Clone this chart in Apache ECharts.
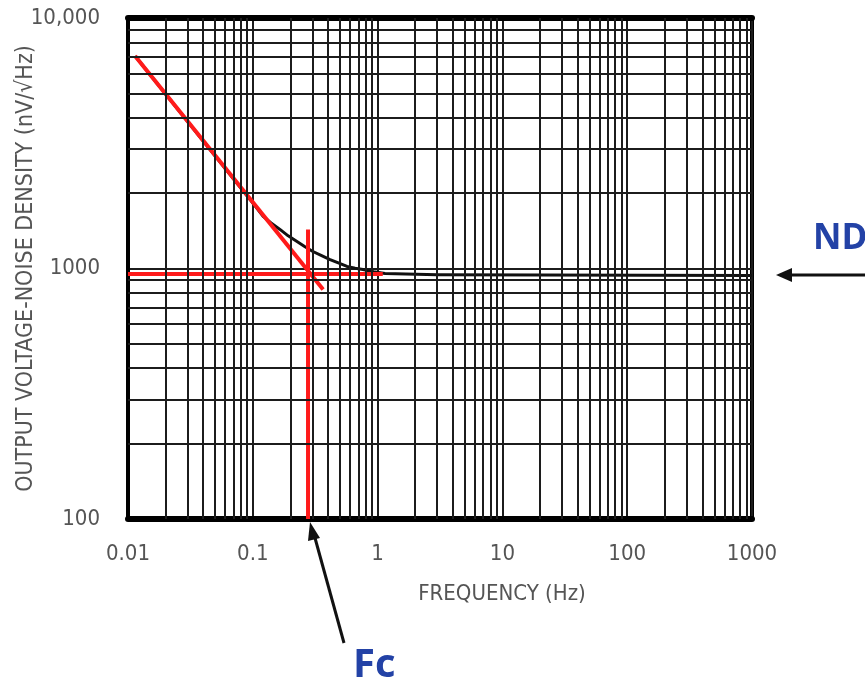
<!DOCTYPE html>
<html>
<head>
<meta charset="utf-8">
<script src="https://cdn.jsdelivr.net/npm/echarts@6/dist/echarts.min.js"></script>
<style>
  html, body { margin: 0; padding: 0; background: #fff; }
  #main { width: 865px; height: 689px; }
</style>
</head>
<body>
<div id="main"></div>
<script>
  // axis decades
  const xDecades = [0.01, 0.1, 1, 10, 100];
  const yDecades = [100, 1000];
  const minorSteps = [2, 3, 4, 5, 6, 7, 8, 9];

  // measured noise curve (black)
  const noiseFreq = [0.0114, 0.095, 0.108, 0.121, 0.14, 0.165, 0.192, 0.226, 0.262, 0.303, 0.356, 0.416, 0.49, 0.569, 0.66, 0.764, 0.93, 1.146, 3, 1000];
  const noiseDensity = [7050, 1885, 1740, 1614, 1520, 1432, 1350, 1282, 1222, 1169, 1125, 1086, 1050, 1019, 1002, 991, 970, 955, 945, 937];

  // 1/f asymptote (red)
  const slopeFreq = [0.0114, 0.366];
  const slopeDensity = [7050, 824];

  // white noise level ND (red)
  const ndFreq = [0.01, 1.1];
  const ndDensity = [950, 950];

  // corner frequency Fc (red)
  const fcFreq = [0.277, 0.277];
  const fcDensity = [100, 1430];

  function pairs(xs, ys) {
    return xs.map((x, i) => [x, ys[i]]);
  }

  const xMinor = [];
  xDecades.forEach(d => minorSteps.forEach(k => xMinor.push(+(d * k).toPrecision(3))));
  const yMinor = [];
  yDecades.forEach(d => minorSteps.forEach(k => yMinor.push(d * k)));

  const gridLine = { color: '#1c1c1c', width: 2, type: 'solid' };
  const labelFont = '"Liberation Sans Narrow", "DejaVu Sans Condensed", sans-serif';

  let myChart = echarts.init(document.getElementById('main'));

  myChart.setOption({
    backgroundColor: '#fff',
    animation: false,
    grid: {
      left: 128, right: 113, top: 18, bottom: 170,
      outerBoundsMode: 'none', containLabel: false,
      show: true, borderColor: '#000', borderWidth: 4
    },
    xAxis: [{
      type: 'log', logBase: 10, min: 0.01, max: 1000,
      name: 'FREQUENCY (Hz)',
      nameLocation: 'middle', nameGap: 64, nameMoveOverlap: false,
      nameTextStyle: { fontFamily: labelFont, fontSize: 22, color: '#555', padding: [0, 0, 0, 124] },
      axisLine: { onZero: false, lineStyle: { color: '#000', width: 6 } },
      axisTick: { show: false },
      axisLabel: {
        margin: 24, fontFamily: labelFont, fontSize: 22, color: '#555',
        formatter: v => String(+v.toPrecision(3))
      },
      splitLine: { show: true, lineStyle: gridLine }
    }, {
      type: 'log', logBase: 10, min: 0.01, max: 1000, position: 'top',
      axisLine: { onZero: false, lineStyle: { color: '#000', width: 6 } },
      axisTick: { show: false }, axisLabel: { show: false }, splitLine: { show: false }
    }],
    yAxis: {
      type: 'log', logBase: 10, min: 100, max: 10000,
      name: 'OUTPUT VOLTAGE-NOISE DENSITY (nV/\u221AHz)',
      nameLocation: 'middle', nameGap: 90, nameMoveOverlap: false,
      nameTextStyle: { fontFamily: labelFont, fontSize: 23, color: '#555' },
      axisLine: { show: true, lineStyle: { color: '#000', width: 4 } },
      axisTick: { show: false },
      axisLabel: {
        margin: 28, fontFamily: labelFont, fontSize: 22, color: '#555',
        formatter: v => (v >= 10000 ? '10,000' : String(Math.round(v)))
      },
      splitLine: { show: true, lineStyle: gridLine }
    },
    series: [{
      // minor log grid
      type: 'line', data: [], silent: true, z: 1,
      markLine: {
        silent: true, symbol: 'none', label: { show: false },
        lineStyle: gridLine,
        data: xMinor.map(v => ({ xAxis: v })).concat(yMinor.map(v => ({ yAxis: v })))
      }
    }, {
      name: 'noise', type: 'line', data: pairs(noiseFreq, noiseDensity),
      showSymbol: false, z: 3,
      lineStyle: { color: '#111', width: 3, join: 'round' }
    }, {
      name: 'slope', type: 'line', data: pairs(slopeFreq, slopeDensity),
      showSymbol: false, z: 4, lineStyle: { color: '#ff1a1a', width: 4 }
    }, {
      name: 'ND', type: 'line', data: pairs(ndFreq, ndDensity),
      showSymbol: false, z: 4, lineStyle: { color: '#ff1a1a', width: 4 }
    }, {
      name: 'Fc', type: 'line', data: pairs(fcFreq, fcDensity),
      showSymbol: false, z: 4, lineStyle: { color: '#ff1a1a', width: 4 }
    }],
    graphic: [
      // ND annotation
      { type: 'text', left: 813, top: 222,
        style: { text: 'ND', font: 'bold 35px "Open Sans", sans-serif', fill: '#2342a6' } },
      { type: 'line', shape: { x1: 788, y1: 275, x2: 866, y2: 275 },
        style: { stroke: '#111', lineWidth: 3 } },
      { type: 'polygon', shape: { points: [[776, 275], [792, 268], [792, 282]] },
        style: { fill: '#111' } },
      // Fc annotation
      { type: 'line', shape: { x1: 315, y1: 538, x2: 344, y2: 643 },
        style: { stroke: '#111', lineWidth: 3 } },
      { type: 'polygon', shape: { points: [[310, 522], [308, 541], [320, 538]] },
        style: { fill: '#111' } },
      { type: 'text', left: 353, top: 646,
        style: { text: 'Fc', font: 'bold 40px "Open Sans", sans-serif', fill: '#2342a6' } }
    ]
  });
</script>
</body>
</html>
